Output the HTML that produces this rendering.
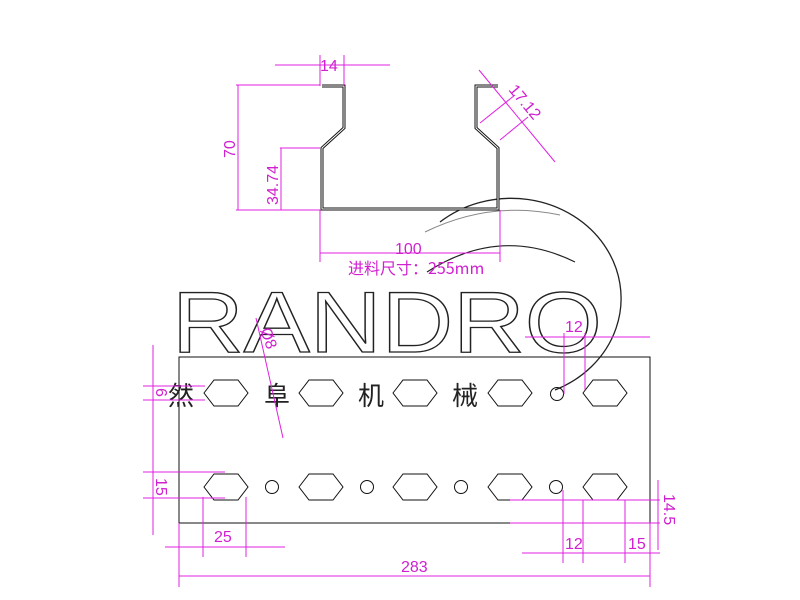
<!DOCTYPE html>
<html><head><meta charset="utf-8"><style>
html,body{margin:0;padding:0;background:#fff;width:800px;height:600px;overflow:hidden}
svg{display:block}
.m{stroke:#e020e0;stroke-width:1;fill:none}
.mt{fill:#d020d0;font-family:"Liberation Sans Narrow","Liberation Sans",sans-serif;font-size:16px}
.k{stroke:#111;fill:none;stroke-width:1}
</style></head><body>
<svg width="800" height="600" viewBox="0 0 800 600" xmlns="http://www.w3.org/2000/svg">
<path d="M440 222 A110 100 0 1 1 555 390" stroke="#222" stroke-width="1.3" fill="none"/>
<path d="M427 272 Q500 225 575 262" stroke="#222" stroke-width="1.2" fill="none"/>
<path d="M425 232 Q490 200 560 215" stroke="#888" stroke-width="1" fill="none"/>

<path d="M322 86 L344 86 L344 128 L322 148 L322 209 L498 209 L498 148 L476 128 L476 86 L498 86" stroke="#111" stroke-width="3" fill="none"/>
<path d="M322 86 L344 86 L344 128 L322 148 L322 209 L498 209 L498 148 L476 128 L476 86 L498 86" stroke="#fff" stroke-width="1" fill="none"/>

<g class="m">
<line x1="275" y1="65" x2="390" y2="65"/>
<line x1="320" y1="55" x2="320" y2="86"/><line x1="344" y1="55" x2="344" y2="86"/>
<line x1="236" y1="85" x2="320" y2="85"/>
<line x1="236" y1="210" x2="320" y2="210"/>
<line x1="238" y1="85" x2="238" y2="210"/>
<line x1="280" y1="148" x2="320" y2="148"/>
<line x1="281" y1="148" x2="281" y2="210"/>
<line x1="320" y1="210" x2="320" y2="262"/><line x1="500" y1="210" x2="500" y2="262"/>
<line x1="320" y1="253" x2="500" y2="253"/>
<line x1="479" y1="70" x2="555" y2="162"/>
<line x1="480" y1="123" x2="515" y2="95"/>
<line x1="500" y1="140" x2="528" y2="117"/>
</g>
<text class="mt" x="320" y="71">14</text>
<text class="mt" transform="translate(235,158) rotate(-90)">70</text>
<text class="mt" transform="translate(278,205) rotate(-90)" font-size="15">34.74</text>
<text class="mt" x="395" y="254">100</text>
<text class="mt" transform="translate(508,90) rotate(50)" font-size="15">17.12</text>
<text class="mt" x="348" y="274" font-size="13" style='font-family:"Liberation Sans Narrow","Noto Sans CJK SC",sans-serif'>进料尺寸：255mm</text>

<text x="172" y="352" font-family="Liberation Sans,sans-serif" font-size="86" textLength="430" lengthAdjust="spacingAndGlyphs" fill="#fff" stroke="#222" stroke-width="1.3">RANDRO</text>

<rect x="179" y="357" width="471" height="166" class="k"/>
<g class="k">
<g id="hx"><polygon points="204,393 214,380 238,380 248,393 238,406 214,406"/></g>
<use href="#hx" x="95"/><use href="#hx" x="189"/><use href="#hx" x="284"/><use href="#hx" x="379"/>
<use href="#hx" y="94"/><use href="#hx" x="95" y="94"/><use href="#hx" x="189" y="94"/><use href="#hx" x="284" y="94"/><use href="#hx" x="379" y="94"/>
<circle cx="557" cy="394" r="6.5"/>
<circle cx="272" cy="487" r="6.5"/><circle cx="367" cy="487" r="6.5"/><circle cx="461" cy="487" r="6.5"/><circle cx="556" cy="487" r="6.5"/>
</g>
<g font-family="Liberation Sans,Noto Sans CJK SC,sans-serif" font-size="26" fill="#222">
<text x="168" y="405">然</text><text x="264" y="405">阜</text><text x="358" y="405">机</text><text x="452" y="405">械</text>
</g>

<g class="m">
<line x1="153" y1="345" x2="153" y2="535"/>
<line x1="143" y1="386" x2="205" y2="386"/><line x1="143" y1="400" x2="205" y2="400"/>
<line x1="143" y1="472" x2="225" y2="472"/><line x1="143" y1="498" x2="225" y2="498"/>
<line x1="256" y1="318" x2="283" y2="438"/>
<line x1="525" y1="337" x2="650" y2="337"/>
<line x1="564" y1="333" x2="564" y2="394"/><line x1="585" y1="333" x2="585" y2="390"/>
<line x1="179" y1="523" x2="179" y2="587"/>
<line x1="203" y1="497" x2="203" y2="557"/><line x1="246" y1="497" x2="246" y2="557"/>
<line x1="165" y1="547" x2="285" y2="547"/>
<line x1="563" y1="490" x2="563" y2="563"/><line x1="583" y1="500" x2="583" y2="563"/>
<line x1="625" y1="500" x2="625" y2="563"/><line x1="650" y1="523" x2="650" y2="587"/>
<line x1="522" y1="553" x2="660" y2="553"/>
<line x1="179" y1="576" x2="650" y2="576"/>
<line x1="510" y1="500" x2="660" y2="500"/><line x1="510" y1="523" x2="660" y2="523"/>
<line x1="658" y1="480" x2="658" y2="550"/>
</g>
<text class="mt" x="565" y="332">12</text>
<text class="mt" transform="translate(260,330) rotate(70)" font-size="13">Ø8</text>
<text class="mt" transform="translate(156,388) rotate(90)" font-size="12">6</text>
<text class="mt" transform="translate(156,478) rotate(90)" font-size="14">15</text>
<text class="mt" x="214" y="542">25</text>
<text class="mt" x="565" y="549">12</text>
<text class="mt" x="628" y="549">15</text>
<text class="mt" x="401" y="572">283</text>
<text class="mt" transform="translate(664,494) rotate(90)" font-size="14">14.5</text>
</svg>
</body></html>
